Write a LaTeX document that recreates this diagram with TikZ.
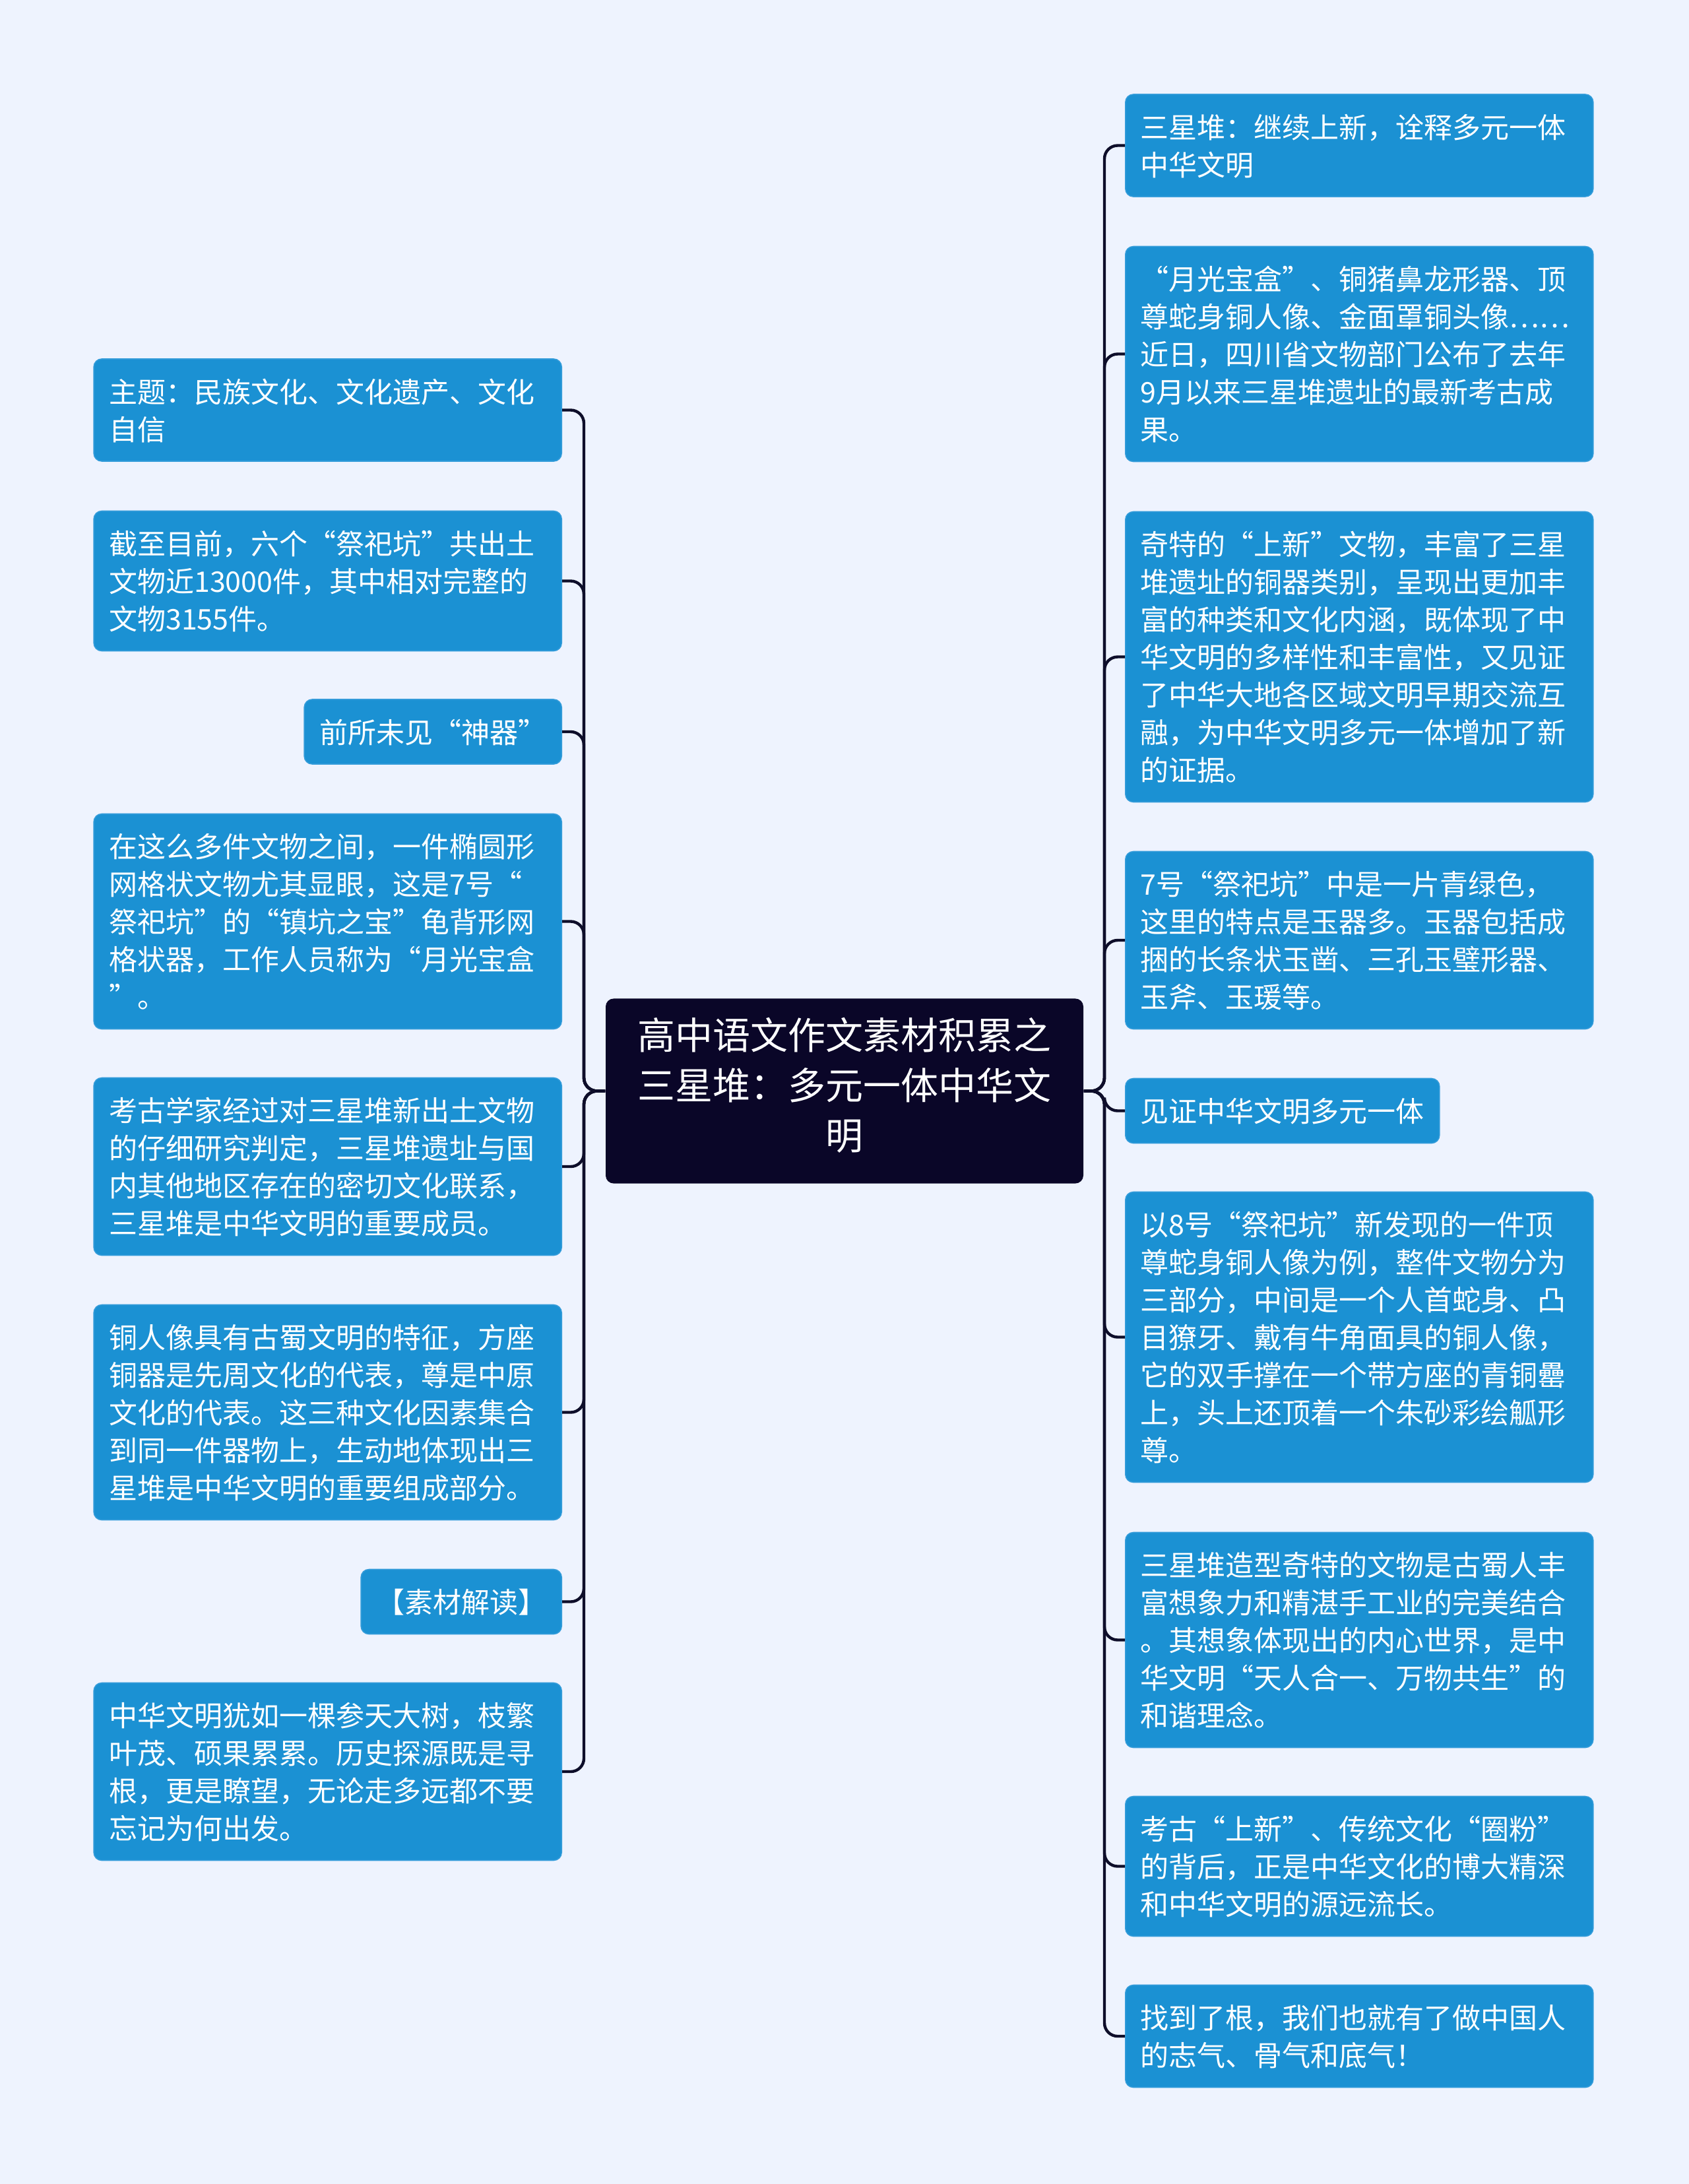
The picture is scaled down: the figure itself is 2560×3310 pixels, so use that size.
\documentclass[tikz,border=0pt]{standalone}
\usepackage{fontspec}
\setmainfont{Noto Sans CJK SC}
\definecolor{pagebg}{RGB}{238,243,254}
\definecolor{leafblue}{RGB}{27,145,211}
\definecolor{leafedge}{RGB}{52,156,218}
\definecolor{rootnavy}{RGB}{10,6,40}
\definecolor{linknavy}{RGB}{14,14,42}
\newcommand{\topstrut}{\rule{0pt}{11.4pt}}
\newcommand{\botstrut}{\rule[-2.85pt]{0pt}{2.85pt}}
\begin{document}
\begin{tikzpicture}[
  x=0.25pt, y=-0.25pt,
  leaf/.style={rectangle, rounded corners=3pt, fill=leafblue, draw=leafedge,
    line width=0.4pt, text=white, align=left, inner xsep=5.75pt,
    inner ysep=5.125pt, font=\fontsize{10.75pt}{14.25pt}\selectfont,
    execute at begin node=\topstrut, execute at end node=\botstrut},
  wideleaf/.style={leaf, text width=165.75pt},
  root/.style={rectangle, rounded corners=3pt, fill=rootnavy, text=white,
    align=center, minimum width=181pt, inner xsep=12pt, inner ysep=7.125pt,
    font=\fontsize{14.25pt}{19pt}\selectfont,
    execute at begin node=\strut, execute at end node=\strut},
  link/.style={draw=linknavy, line width=1.1pt, rounded corners=5pt}
]
\fill[pagebg] (0,0) rectangle (2560,3310);

\node[root] (root) at (1280,1653.5)
  {高中语文作文素材积累之\\三星堆：多元一体中华文\\明};

\coordinate (lbus) at (885,1653.5);
\coordinate (rbus) at (1674,1653.5);

\node[wideleaf, anchor=east] (l1) at (852,621.5)
  {主题：民族文化、文化遗产、文化\\自信};
\node[wideleaf, anchor=east] (l2) at (852,880.5)
  {截至目前，六个“祭祀坑”共出土\\文物近13000件，其中相对完整的\\文物3155件。};
\node[leaf, anchor=east] (l3) at (852,1109)
  {前所未见“神器”};
\node[wideleaf, anchor=east] (l4) at (852,1396.5)
  {在这么多件文物之间，一件椭圆形\\网格状文物尤其显眼，这是7号“\\祭祀坑”的“镇坑之宝”龟背形网\\格状器，工作人员称为“月光宝盒\\”。};
\node[wideleaf, anchor=east] (l5) at (852,1768)
  {考古学家经过对三星堆新出土文物\\的仔细研究判定，三星堆遗址与国\\内其他地区存在的密切文化联系，\\三星堆是中华文明的重要成员。};
\node[wideleaf, anchor=east] (l6) at (852,2140.5)
  {铜人像具有古蜀文明的特征，方座\\铜器是先周文化的代表，尊是中原\\文化的代表。这三种文化因素集合\\到同一件器物上，生动地体现出三\\星堆是中华文明的重要组成部分。};
\node[leaf, anchor=east] (l7) at (852,2427.5)
  {【素材解读】};
\node[wideleaf, anchor=east] (l8) at (852,2685)
  {中华文明犹如一棵参天大树，枝繁\\叶茂、硕果累累。历史探源既是寻\\根，更是瞭望，无论走多远都不要\\忘记为何出发。};

\node[wideleaf, anchor=west] (r1) at (1705,220.5)
  {三星堆：继续上新，诠释多元一体\\中华文明};
\node[wideleaf, anchor=west] (r2) at (1705,536.5)
  {“月光宝盒”、铜猪鼻龙形器、顶\\尊蛇身铜人像、金面罩铜头像……\\近日，四川省文物部门公布了去年\\9月以来三星堆遗址的最新考古成\\果。};
\node[wideleaf, anchor=west] (r3) at (1705,995.5)
  {奇特的“上新”文物，丰富了三星\\堆遗址的铜器类别，呈现出更加丰\\富的种类和文化内涵，既体现了中\\华文明的多样性和丰富性，又见证\\了中华大地各区域文明早期交流互\\融，为中华文明多元一体增加了新\\的证据。};
\node[wideleaf, anchor=west] (r4) at (1705,1425)
  {7号“祭祀坑”中是一片青绿色，\\这里的特点是玉器多。玉器包括成\\捆的长条状玉凿、三孔玉璧形器、\\玉斧、玉瑗等。};
\node[leaf, anchor=west] (r5) at (1705,1683.5)
  {见证中华文明多元一体};
\node[wideleaf, anchor=west] (r6) at (1705,2026.5)
  {以8号“祭祀坑”新发现的一件顶\\尊蛇身铜人像为例，整件文物分为\\三部分，中间是一个人首蛇身、凸\\目獠牙、戴有牛角面具的铜人像，\\它的双手撑在一个带方座的青铜罍\\上，头上还顶着一个朱砂彩绘觚形\\尊。};
\node[wideleaf, anchor=west] (r7) at (1705,2485.5)
  {三星堆造型奇特的文物是古蜀人丰\\富想象力和精湛手工业的完美结合\\。其想象体现出的内心世界，是中\\华文明“天人合一、万物共生”的\\和谐理念。};
\node[wideleaf, anchor=west] (r8) at (1705,2828.5)
  {考古“上新”、传统文化“圈粉”\\的背后，正是中华文化的博大精深\\和中华文明的源远流长。};
\node[wideleaf, anchor=west] (r9) at (1705,3086)
  {找到了根，我们也就有了做中国人\\的志气、骨气和底气！};

\foreach \n in {l1,l2,l3,l4,l5,l6,l7,l8}
  \draw[link] (root.west) -- (lbus) |- (\n.east);
\foreach \n in {r1,r2,r3,r4,r5,r6,r7,r8,r9}
  \draw[link] (root.east) -- (rbus) |- (\n.west);
\end{tikzpicture}
\end{document}
